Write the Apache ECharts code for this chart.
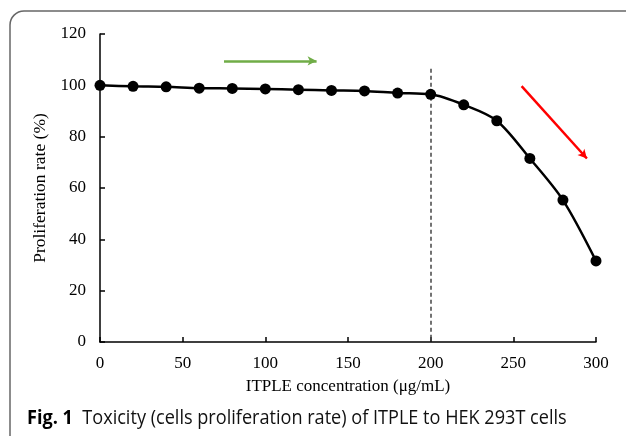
<!DOCTYPE html>
<html><head><meta charset="utf-8">
<script src="https://cdn.jsdelivr.net/npm/echarts@6/dist/echarts.min.js"></script>
<style>html,body{margin:0;padding:0;background:#fff}#c{width:629px;height:436px}</style>
</head><body><div id="c"></div>
<script>
const concentrations = [0,20,40,60,80,100,120,140,160,180,200,220,240,260,280,300];
const proliferation = [100,99.6,99.4,98.9,98.8,98.6,98.3,98.0,97.8,97.0,96.5,92.4,86.2,71.5,55.3,31.6];
const xTicks = [0,50,100,150,200,250,300];
const yTicks = [0,20,40,60,80,100,120];
const xTitle = 'ITPLE concentration (μg/mL)';
const yTitle = 'Proliferation rate (%)';
const captionBold = 'Fig. 1';
const captionText = 'Toxicity (cells proliferation rate) of ITPLE to HEK 293T cells';
const thresholdX = 200;
const greenArrow = [[75,109.5],[131,109.5]];
const redArrow = [[255,99.7],[294.5,71.5]];

const chart = echarts.init(document.getElementById('c'), null, {renderer:'canvas'});
const serif = '"Liberation Serif","Times New Roman",serif';
const axisCommon = {
  axisLine:{show:true,lineStyle:{color:'#000',width:1.5}},
  axisTick:{show:true,inside:true,length:5,lineStyle:{color:'#000',width:1.5}},
  splitLine:{show:false},
  axisLabel:{color:'#000',fontFamily:serif,fontSize:17}
};
const frameStyle = {stroke:'#666',lineWidth:1.5,fill:null};
const capFont = '"Open Sans","Noto Sans",sans-serif';
chart.setOption({
  animation:false,
  grid:{left:100,right:33,top:34,bottom:94},
  xAxis:Object.assign({type:'value',min:xTicks[0],max:xTicks[xTicks.length-1],interval:50,
    name:xTitle,nameLocation:'middle',nameGap:36,
    nameTextStyle:{color:'#000',fontFamily:serif,fontSize:17}},axisCommon,
    {axisLabel:Object.assign({},axisCommon.axisLabel,{margin:13})}),
  yAxis:Object.assign({type:'value',min:yTicks[0],max:yTicks[yTicks.length-1],interval:20,
    name:yTitle,nameLocation:'middle',nameGap:49,
    nameTextStyle:{color:'#000',fontFamily:serif,fontSize:17.5}},axisCommon,
    {axisLabel:Object.assign({},axisCommon.axisLabel,{margin:14})}),
  series:[{
    type:'line',
    data:concentrations.map((c,i)=>[c,proliferation[i]]),
    smooth:0.3,
    symbol:'circle',symbolSize:11,
    itemStyle:{color:'#000'},
    lineStyle:{color:'#000',width:2.5},
    z:5,
    markLine:{
      silent:true,
      label:{show:false},
      data:[
        [{coord:[thresholdX,106.5],symbol:'none',lineStyle:{color:'#444',type:[4,3],width:1.5}},{coord:[thresholdX,0],symbol:'none'}],
        [{coord:greenArrow[0],symbol:'none',lineStyle:{color:'#70ad47',type:'solid',width:2.5}},{coord:greenArrow[1],symbol:'arrow',symbolSize:[7,9]}],
        [{coord:redArrow[0],symbol:'none',lineStyle:{color:'#ff0000',type:'solid',width:2.5}},{coord:redArrow[1],symbol:'arrow',symbolSize:[7,9]}]
      ]
    }
  }],
  graphic:[
    {type:'line',shape:{x1:24,y1:11,x2:626,y2:11},style:frameStyle},
    {type:'arc',shape:{cx:24,cy:25,r:14,startAngle:Math.PI,endAngle:Math.PI*1.5},style:frameStyle},
    {type:'line',shape:{x1:10,y1:25,x2:10,y2:436},style:frameStyle},
    {type:'text',x:27,y:418.5,scaleX:0.905,originX:0,originY:0,
     style:{verticalAlign:'middle',align:'left',
       rich:{b:{fontWeight:'bold',fontFamily:capFont,fontSize:20,fill:'#000'},n:{fontFamily:capFont,fontSize:20,fill:'#111'}},
       text:'{b|'+captionBold+'}{n|  '+captionText+'}'}}
  ]
});
</script></body></html>
